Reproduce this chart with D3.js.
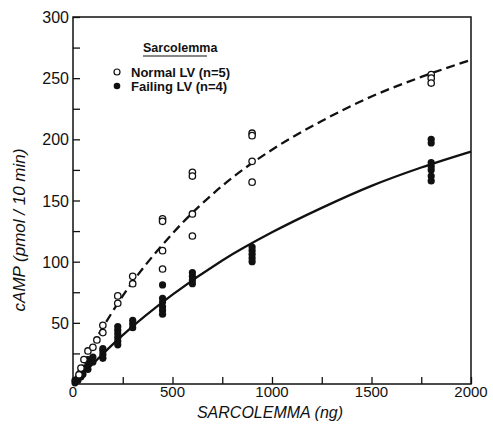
<!DOCTYPE html>
<html><head><meta charset="utf-8">
<script src="https://cdn.jsdelivr.net/npm/d3@7"></script>
<style>
body{margin:0;background:#fff;}
text{font-family:"Liberation Sans","DejaVu Sans",sans-serif;fill:#111;}
</style></head>
<body><svg id="c" width="493" height="430"></svg>
<script>
// Data
const normalX = [30,40,55,75,100,120,150,150,225,225,300,300,450,450,450,450,600,600,600,600,900,900,900,900,1800,1800,1800];
const normalY = [7.6,13,20,27,30,36,48,42,72,66,88,82,135,133,109,94,173,170,139,121,205,203,182,165,253,250,246];
const failX = [10,10,25,25,40,40,50,50,75,75,75,100,100,150,150,150,150,225,225,225,225,225,225,300,300,300,450,450,450,450,450,450,600,600,600,600,900,900,900,900,900,1800,1800,1800,1800,1800,1800,1800];
const failY = [1,3,3,5,6,10,8,13,12,16,20,18,22,21,24,27,29,32,35,38,41,44,47,46,49,52,81,70,67,63,60,57,91,88,85,82,112,109,106,103,100,200,197,181,178,175,170,166];
const normalCurveX = [130,250,500,750,1000,1250,1500,1750,2000];
const normalCurveY = [41,72,123,162,191.5,215,235,251,265];
const failCurveX = [10,250,500,750,1000,1250,1500,1750,2000];
const failCurveY = [1.8,40,73,101,124,144,162,177,190];
const xTicks = [0,500,1000,1500,2000];
const yTicks = [50,100,150,200,250,300];

const svg = d3.select("#c");
const L=73, R=471, T=17, B=384;
const x = d3.scaleLinear().domain([0,2000]).range([L,R]);
const y = d3.scaleLinear().domain([0,300]).range([B,T]);

// frame
svg.append("rect").attr("x",L).attr("y",T).attr("width",R-L).attr("height",B-T)
  .attr("fill","none").attr("stroke","#111").attr("stroke-width",1.5);

// x axis (ticks inward)
const xa = svg.append("g").attr("transform",`translate(0,${B})`)
  .call(d3.axisBottom(x).tickValues(d3.range(0,2001,250)).tickSize(-7).tickFormat(""));
xa.select(".domain").remove();
xa.selectAll("line").attr("stroke","#111").attr("stroke-width",1.3);
svg.append("g").selectAll("text").data(xTicks).join("text")
  .attr("x",d=>x(d)).attr("y",397).attr("text-anchor","middle")
  .attr("font-size",15).text(d=>d);

// y axis (ticks inward)
const ya = svg.append("g").attr("transform",`translate(${L},0)`)
  .call(d3.axisLeft(y).tickValues(d3.range(25,301,25)).tickSize(-7).tickFormat(""));
ya.select(".domain").remove();
ya.selectAll("line").attr("stroke","#111").attr("stroke-width",1.3);
svg.append("g").selectAll("text").data(yTicks).join("text")
  .attr("x",69).attr("y",d=>y(d)+6).attr("text-anchor","end")
  .attr("font-size",16).text(d=>d);

// titles
svg.append("text").attr("x",270).attr("y",418).attr("text-anchor","middle")
  .attr("font-size",16).attr("font-style","italic").text("SARCOLEMMA (ng)");
svg.append("text").attr("transform","translate(25,230) rotate(-90)").attr("text-anchor","middle")
  .attr("font-size",17).attr("font-style","italic").text("cAMP (pmol / 10 min)");

// curves
const line = d3.line().x(d=>x(d[0])).y(d=>y(d[1])).curve(d3.curveMonotoneX);
svg.append("path").datum(normalCurveX.map((v,i)=>[v,normalCurveY[i]]))
  .attr("d",line).attr("fill","none").attr("stroke","#111").attr("stroke-width",2.3)
  .attr("stroke-dasharray","9,5");
svg.append("path").datum(failCurveX.map((v,i)=>[v,failCurveY[i]]))
  .attr("d",line).attr("fill","none").attr("stroke","#111").attr("stroke-width",2.3);

// points
svg.append("g").selectAll("circle").data(failX.map((v,i)=>[v,failY[i]])).join("circle")
  .attr("cx",d=>x(d[0])).attr("cy",d=>y(d[1])).attr("r",3.6).attr("fill","#111");
svg.append("g").selectAll("circle").data(normalX.map((v,i)=>[v,normalY[i]])).join("circle")
  .attr("cx",d=>x(d[0])).attr("cy",d=>y(d[1])).attr("r",3.2)
  .attr("fill","#fff").attr("stroke","#111").attr("stroke-width",1.3);

// legend
const lg = svg.append("g");
lg.append("text").attr("x",143).attr("y",52).attr("font-size",12.5).attr("font-weight","bold").text("Sarcolemma");
lg.append("line").attr("x1",143).attr("x2",207).attr("y1",56).attr("y2",56).attr("stroke","#111").attr("stroke-width",1.2);
lg.append("circle").attr("cx",117).attr("cy",72).attr("r",3).attr("fill","#fff").attr("stroke","#111").attr("stroke-width",1.2);
lg.append("circle").attr("cx",117).attr("cy",86).attr("r",3.3).attr("fill","#111");
lg.append("text").attr("x",131).attr("y",77).attr("font-size",13).attr("font-weight","bold").text("Normal LV (n=5)");
lg.append("text").attr("x",131).attr("y",91).attr("font-size",13).attr("font-weight","bold").text("Failing LV (n=4)");
</script></body></html>
